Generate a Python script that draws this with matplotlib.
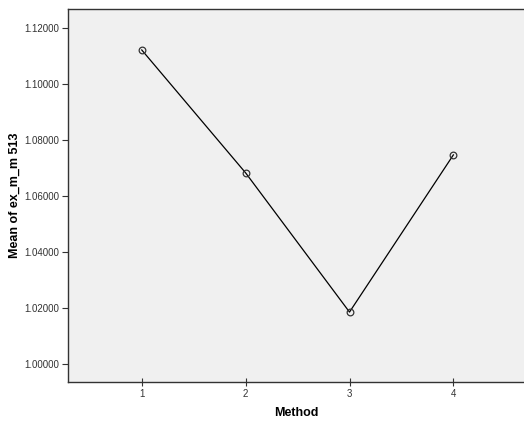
import matplotlib.pyplot as plt
from matplotlib.ticker import FormatStrFormatter

plt.rcParams['font.family'] = ['Liberation Sans', 'DejaVu Sans']

methods = [1, 2, 3, 4]
means = [1.11214, 1.06821, 1.01846, 1.07464]
yticks = [1.00, 1.02, 1.04, 1.06, 1.08, 1.10, 1.12]

fig = plt.figure(figsize=(5.24, 4.26), dpi=100)
ax = fig.add_axes([0.1298, 0.1033, 0.8702, 0.8756])
ax.set_facecolor('#f0f0f0')

ax.plot(methods, means, color='black', lw=0.9, marker='o', ms=4.8,
        mfc='none', mec='#333333', mew=0.9)

ax.set_xlim(0.29, 4.68)
ax.set_ylim(0.99347, 1.12679)
ax.set_xticks(methods)
ax.set_yticks(yticks)
ax.yaxis.set_major_formatter(FormatStrFormatter('%.5f'))
ax.tick_params(axis='both', labelsize=7, colors='#333333', length=4, width=0.8, pad=2)
ax.tick_params(axis='x', direction='inout', length=6)

for s in ['left', 'bottom', 'top']:
    ax.spines[s].set_color('#333333')
    ax.spines[s].set_linewidth(1.0)
ax.spines['right'].set_visible(False)

ax.set_xlabel('Method', fontsize=9, fontweight='bold', labelpad=6)
ax.set_ylabel('Mean of ex_m_m 513', fontsize=9, fontweight='bold', labelpad=3)

fig.savefig('out.png', dpi=100)
